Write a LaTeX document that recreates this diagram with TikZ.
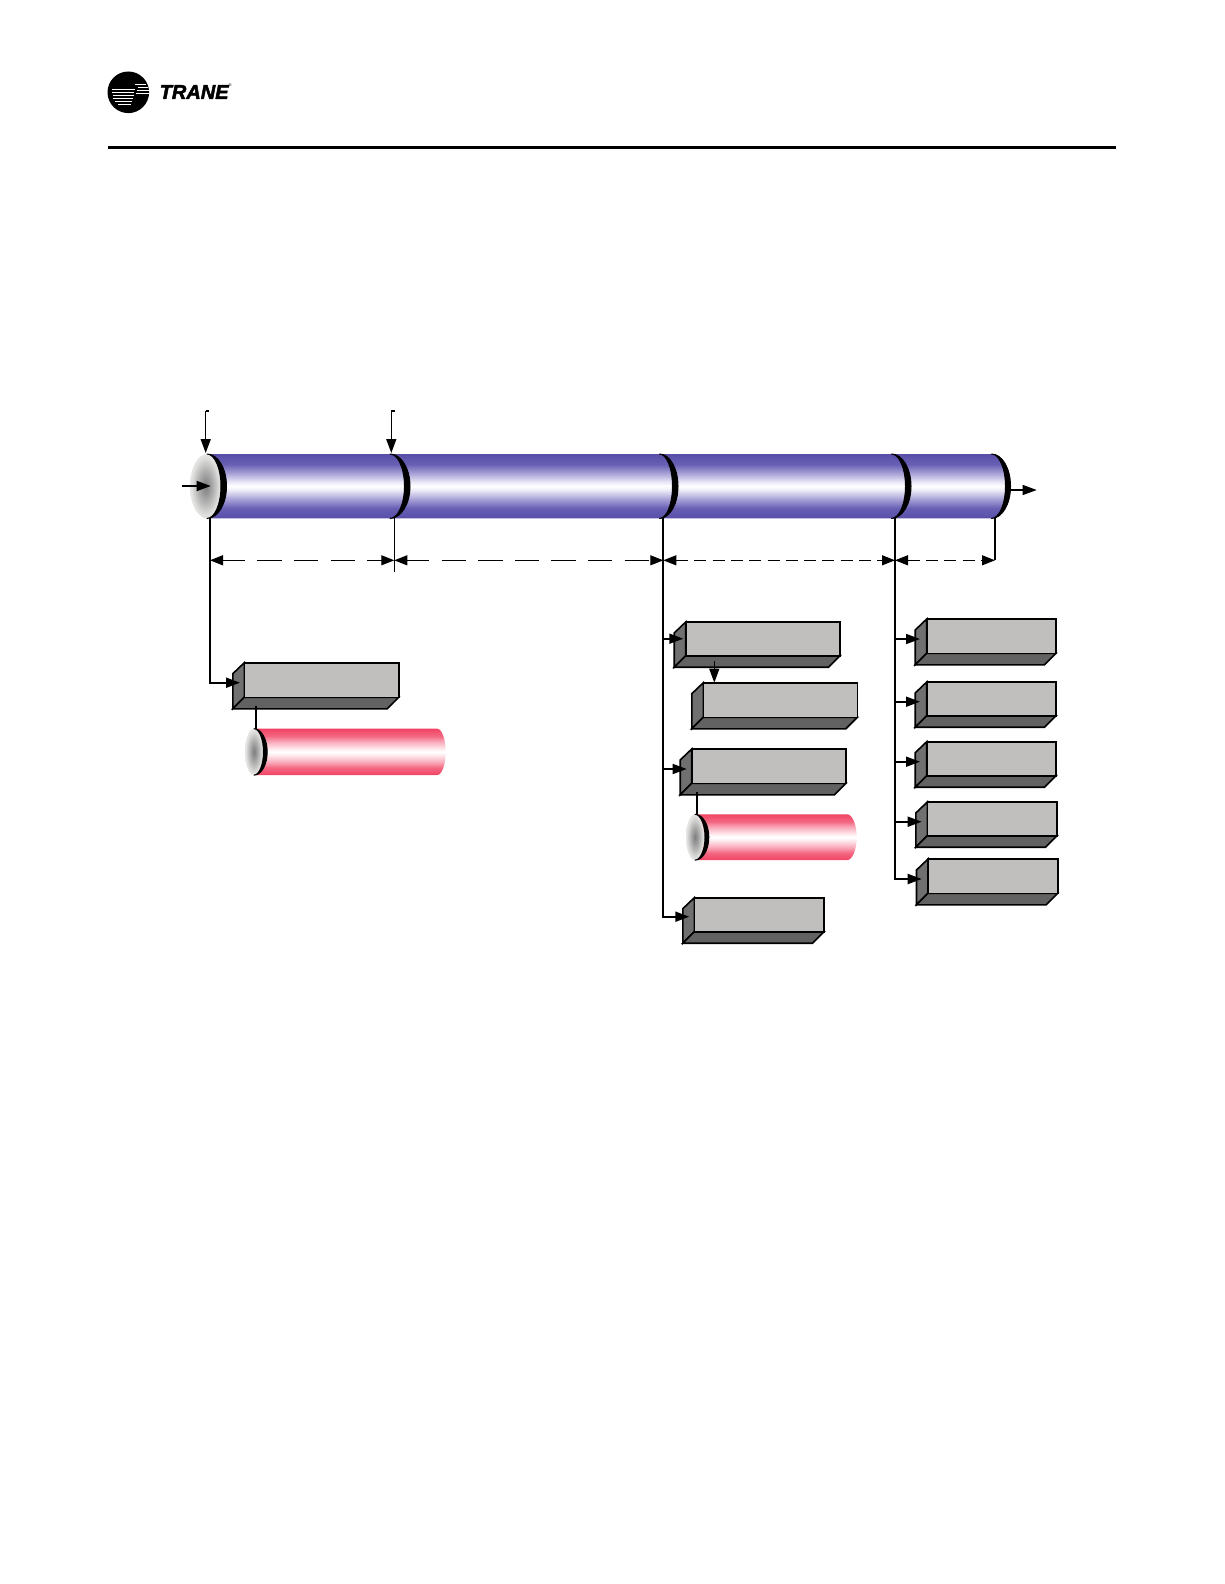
\documentclass[tikz,border=0pt]{standalone}
\usepackage{fontspec}
\newfontfamily\logofont[BoldItalicFeatures={FakeBold=2.5}]{Liberation Sans}
\usetikzlibrary{arrows.meta}
\definecolor{faceC}{RGB}{192,191,189}
\definecolor{sideC}{RGB}{112,112,112}
\definecolor{lowC}{RGB}{98,98,98}
\definecolor{bluea}{RGB}{88,78,168}
\definecolor{blueb}{RGB}{104,96,180}
\definecolor{bluec}{RGB}{158,152,210}
\definecolor{blued}{RGB}{236,235,247}
\definecolor{reda}{RGB}{240,68,100}
\definecolor{redb}{RGB}{243,104,130}
\definecolor{redc}{RGB}{249,170,186}
\definecolor{redd}{RGB}{254,238,241}
\definecolor{capa}{RGB}{125,125,125}
\definecolor{capb}{RGB}{175,175,175}
\definecolor{capc}{RGB}{222,222,220}
\definecolor{capd}{RGB}{230,230,228}
\pgfdeclareverticalshading{bluepipe}{100bp}{
 color(0bp)=(bluea); color(25bp)=(bluea); color(33bp)=(blueb); color(39bp)=(bluec); color(47bp)=(blued);
 color(50bp)=(white);
 color(53bp)=(blued); color(61bp)=(bluec); color(67bp)=(blueb); color(75bp)=(bluea); color(100bp)=(bluea)}
\pgfdeclareverticalshading{redpipe}{100bp}{
 color(0bp)=(reda); color(25bp)=(reda); color(33bp)=(redb); color(39bp)=(redc); color(47bp)=(redd);
 color(50bp)=(white);
 color(53bp)=(redd); color(61bp)=(redc); color(67bp)=(redb); color(75bp)=(reda); color(100bp)=(reda)}
\pgfdeclareradialshading{capshade}{\pgfpoint{0bp}{0bp}}{
 color(0bp)=(capa); color(12bp)=(capb); color(22bp)=(capc); color(25bp)=(capd); color(50bp)=(capd)}
\tikzset{
 tipped/.style={-{Triangle[length=14pt,width=10pt]}},
 branch/.style={tipped,line width=1.7pt,black},
 thinline/.style={line width=1.4pt,black},
 dimlong/.style={{Triangle[length=13pt,width=10pt]}-{Triangle[length=13pt,width=10pt]},line width=1.2pt,dash pattern=on 24.3pt off 12.3pt,dash phase=2pt},
 dimshort/.style={{Triangle[length=13pt,width=10pt]}-{Triangle[length=13pt,width=10pt]},line width=1.2pt,dash pattern=on 12pt off 6.3pt},
 facebox/.style={draw=black,line width=1.6pt,line join=miter}
}
% name, x1, y1, x2, y2
\newcommand{\prism}[5]{
 \filldraw[facebox,fill=sideC] (#2,#3)--(#2-11.5,#3+11)--(#2-11.5,#5+11.5)--(#2,#5)--cycle;
 \filldraw[facebox,fill=lowC] (#2,#5)--(#4,#5)--(#4-11.5,#5+11.5)--(#2-11.5,#5+11.5)--cycle;
 \filldraw[facebox,fill=faceC] (#2,#3) rectangle (#4,#5);
 \coordinate (#1) at (#2,#3);
}
% crescent at x, top y, half height, outer and inner radius
\newcommand{\crescent}[5]{
 \filldraw[black,line width=1pt,line join=round] (#1,#2) arc[start angle=90,end angle=-90,x radius=#4pt,y radius=#3pt]
   arc[start angle=-90,end angle=90,x radius=#5pt,y radius=#3pt]--cycle;
}
\begin{document}
\begin{tikzpicture}[x=1pt,y=-1pt]
\useasboundingbox (0,0) rectangle (1224,1584);
\fill[white] (0,0) rectangle (1224,1584);
% header
\fill[black] (128.3,92.3) circle[radius=20.8pt];
\foreach \ya/\xa/\xb in {89/112/135, 92/112/134, 95/113/134, 98/113/133, 101/115/132, 104/118/131}{
  \draw[white,line width=.8pt] (\xa,\ya)--(\xb,\ya);}
\foreach \ya/\xa/\xb in {84/135/146, 87/138/148, 90/137/149, 93/136/149}{
  \draw[white,line width=.7pt] (\xa,\ya)--(\xb,\ya);}
\node[inner sep=0pt,anchor=west,font=\logofont\bfseries\itshape\fontsize{20}{20}\selectfont] (brand) at (159.5,92) {TRANE};
\node[inner sep=0pt,font=\logofont\fontsize{4}{4}\selectfont] (regmark) at (230,85.5) {®};
\draw[line width=2.8pt,black] (108,147.3)--(1116,147.3);
% main pipe
\shade[shading=bluepipe] (207,454)--(992,454) arc[start angle=90,end angle=-90,x radius=19pt,y radius=32.2pt]--(207,518.4)--cycle;
\shade[shading=capshade] (207,454) arc[start angle=90,end angle=270,x radius=17pt,y radius=32.2pt]
   arc[start angle=-90,end angle=90,x radius=14pt,y radius=32.2pt]--cycle;
\crescent{207}{454}{32.2}{19.5}{14}
\crescent{390}{454}{32.2}{20}{14.5}
\crescent{659.5}{454}{32.2}{18.5}{13}
\crescent{891.5}{454}{32.2}{19.5}{14}
\crescent{991.5}{454}{32.2}{19}{14}
% anchors
\coordinate (topA) at (209.3,411);
\coordinate (topAb) at (205.7,411);
\coordinate (topAt) at (205.7,453);
\coordinate (topB) at (395,411);
\coordinate (topBb) at (391.3,411);
\coordinate (topBt) at (391.3,453);
\coordinate (inA) at (182.3,486);
\coordinate (inB) at (210.7,486);
\coordinate (outA) at (1011,490);
\coordinate (outB) at (1036.7,490);
\draw[thinline] (topA)--(topAb);
\draw[branch,line width=1.5pt] (topAb)--(topAt);
\draw[thinline] (topB)--(topBb);
\draw[branch,line width=1.5pt] (topBb)--(topBt);
\draw[branch] (inA)--(inB);
\draw[branch,line width=1.3pt] (outA)--(outB);
% left boxes
\prism{boxL}{244.3}{662.7}{398.7}{697.3}
% red pipe 1
\shade[shading=redpipe] (254,728.7)--(437,728.7) arc[start angle=90,end angle=-90,x radius=8.7pt,y radius=23.2pt]--(254,775.1)--cycle;
\shade[shading=capshade] (254,728.7) arc[start angle=90,end angle=270,x radius=9pt,y radius=23.2pt]
   arc[start angle=-90,end angle=90,x radius=9pt,y radius=23.2pt]--cycle;
\crescent{254}{728.7}{23.2}{13.2}{9.5}
% middle boxes
\prism{boxA}{685.7}{622}{840}{655.7}
\prism{boxB}{703.3}{682.7}{857.3}{717.3}
\prism{boxC}{691.7}{749}{846}{783.3}
\prism{boxD}{694.3}{897.7}{824}{931.7}
% red pipe 2
\shade[shading=redpipe] (695,814.3)--(847,814.3) arc[start angle=90,end angle=-90,x radius=9.7pt,y radius=22.9pt]--(695,860.1)--cycle;
\shade[shading=capshade] (695,814.3) arc[start angle=90,end angle=270,x radius=9pt,y radius=22.9pt]
   arc[start angle=-90,end angle=90,x radius=9pt,y radius=22.9pt]--cycle;
\crescent{695}{814.3}{22.9}{13.8}{10}
% right boxes
\prism{boxR}{926.7}{619}{1056}{653.3}
\prism{boxS}{926.7}{682}{1056}{715.7}
\prism{boxT}{926.7}{741.7}{1056}{775.7}
\prism{boxU}{927.3}{802}{1057}{835.7}
\prism{boxV}{928}{859}{1057.7}{893.3}
% trunks and their ends
\coordinate (t1a) at (210,518);
\coordinate (t1b) at (240,682.7);
\coordinate (t2a) at (394.3,518);
\coordinate (t2b) at (394.3,571.7);
\coordinate (t3a) at (663.3,518);
\coordinate (t3j1) at (663.3,638.7);
\coordinate (t3e1) at (683.3,638.7);
\coordinate (t3j2) at (663.3,769);
\coordinate (t3e2) at (686.7,769);
\coordinate (t3e3) at (689.3,916.7);
\coordinate (t4a) at (895,518);
\coordinate (t4j1) at (895,639);
\coordinate (t4e1) at (920,639);
\coordinate (t4j2) at (895,701.7);
\coordinate (t4e2) at (920,701.7);
\coordinate (t4j3) at (895,761.7);
\coordinate (t4e3) at (920,761.7);
\coordinate (t4j4) at (895,821.7);
\coordinate (t4e4) at (921.7,821.7);
\coordinate (t4e5) at (921.7,879);
\coordinate (t5a) at (995,518);
\coordinate (t5b) at (995,560.3);
\draw[branch,line width=2pt] (t1a) |- (t1b);
\draw[thinline] (t2a)--(t2b);
\draw[branch,line width=2pt] (t3a) |- (t3e3);
\draw[branch] (t3j1)--(t3e1);
\draw[branch] (t3j2)--(t3e2);
\draw[branch,line width=2pt] (t4a) |- (t4e5);
\draw[branch] (t4j1)--(t4e1);
\draw[branch] (t4j2)--(t4e2);
\draw[branch] (t4j3)--(t4e3);
\draw[branch] (t4j4)--(t4e4);
\draw[thinline] (t5a)--(t5b);
% dimension arrows
\coordinate (d1) at (210,560.3);
\coordinate (d2) at (394.3,560.3);
\coordinate (d3) at (663.3,560.3);
\coordinate (d4) at (895,560.3);
\draw[dimlong] (d1)--(d2);
\draw[dimlong] (d2)--(d3);
\draw[dimshort] (d3)--(d4);
\draw[dimshort] (d4)--(t5b);
% box to box links
\coordinate (linkAB) at (714.3,661);
\coordinate (linkABe) at (714.3,682.7);
\draw[branch,line width=1.3pt] (linkAB)--(linkABe);
\coordinate (linkL) at (255.7,705.7);
\coordinate (linkLe) at (255.7,728.7);
\draw[line width=1.6pt] (linkL)--(linkLe);
\coordinate (linkC) at (697,791.7);
\coordinate (linkCe) at (697,814.3);
\draw[line width=1.6pt] (linkC)--(linkCe);
\end{tikzpicture}
\end{document}
